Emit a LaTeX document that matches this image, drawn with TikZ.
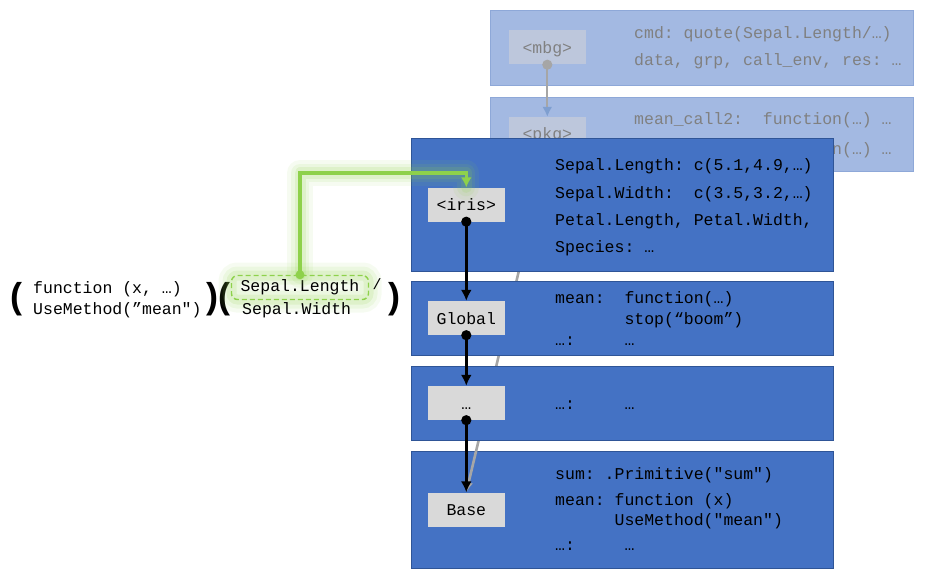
\documentclass[tikz,border=0pt]{standalone}
\usepackage{fontspec}
\setmonofont{Liberation Mono}
\newfontfamily\parenfont{Liberation Sans}
\usetikzlibrary{
arrows.meta,
calc,
positioning
}
\tikzset{>=latex}
\definecolor{envblue}{HTML}{4472C4}
\definecolor{envedge}{HTML}{2F5597}
\definecolor{labelgray}{HTML}{D9D9D9}
\definecolor{mbgblue}{HTML}{A3B9E2}
\definecolor{mbgedge}{HTML}{8EA8D8}
\definecolor{mbgbox}{HTML}{BDC7DC}
\definecolor{mbgtext}{HTML}{808080}
\definecolor{mbghead}{HTML}{7F9FD0}
\definecolor{linkgray}{HTML}{A6A6A6}
\definecolor{grn}{HTML}{8ED14B}

\begin{document}
\begin{tikzpicture}[x=1pt, y=-1pt, font=\fontsize{16.5}{18}\selectfont\ttfamily,
	envframe/.style={draw=envedge, fill=envblue, line width=0.8pt, minimum width=422pt, inner sep=0pt},
	mbgframe/.style={draw=mbgedge, fill=mbgblue, line width=0.8pt, minimum width=423pt, inner sep=0pt},
	envlabel/.style={fill=labelgray, minimum width=77pt, minimum height=34pt, inner sep=0pt, text height=13pt, text depth=1pt},
	mbglabel/.style={envlabel, fill=mbgbox, text=mbgtext},
	code/.style={anchor=base west, inner sep=0pt, text height=11pt, text depth=2pt},
	mbgcode/.style={code, text=mbgtext},
	bigparen/.style={font=\fontsize{36}{36}\selectfont\parenfont\bfseries, inner sep=0pt},
	parent/.style={line width=2.6pt, {Circle[length=10pt]}-{Latex[length=11pt,width=11pt]}, shorten <=-5pt},
	mbglink/.style={draw=linkgray, line width=2.2pt, {Circle[length=10pt]}-{Latex[length=10pt,width=10pt,color=mbghead]}, shorten <=-5pt},
	scopelink/.style={draw=linkgray, line width=2.6pt, -{Latex[length=10pt,width=9pt]}},
	argbox/.style={draw=grn, dash pattern=on 5pt off 3pt, line width=1.4pt, rounded corners=6pt,
		minimum width=137pt, minimum height=24pt, inner sep=0pt,
		preaction={draw=grn, solid, opacity=0.08, line width=26pt},
		preaction={draw=grn, solid, opacity=0.1, line width=18pt},
		preaction={draw=grn, solid, opacity=0.15, line width=10pt}},
	lookup/.style={draw=grn, line width=3.5pt, -{Latex[length=10pt,width=11pt]},
		preaction={draw=grn, arrows=-, line cap=round, line join=round, opacity=0.08, line width=26pt},
		preaction={draw=grn, arrows=-, line cap=round, line join=round, opacity=0.1, line width=18pt},
		preaction={draw=grn, arrows=-, line cap=round, line join=round, opacity=0.15, line width=11pt}}
]
	\useasboundingbox (0,0) rectangle (925,580);

	% faded environments at the top
	\node[mbgframe, minimum height=75pt] (mbgenv) at (701.5,47.5) {};
	\node[mbgframe, minimum height=74pt] (pkgenv) at (701.5,134) {};
	\node[mbglabel, right=19pt of mbgenv.west] (mbgl) {<mbg>};
	\node[mbglabel, right=19pt of pkgenv.west] (pkgl) {<pkg>};
	\node[mbgcode] (mbgtx1) at (634,39) {cmd: quote(Sepal.Length/…)};
	\node[mbgcode] (mbgtx2) at (634,66) {data, grp, call\_env, res: …};
	\node[mbgcode] (pkgtx1) at (634,125) {mean\_call2:~~function(…) …};
	\node[mbgcode] (pkgtx2) at (634,155) {mean\_call1:~~function(…) …};
	\draw[mbglink] (mbgl.south) -- (pkgl.north);

	% base environment, under the scope link
	\node[envframe, minimum height=117pt] (baseenv) at (622,509.5) {};
	\node[envlabel, right=17pt of baseenv.west] (basel) {Base};
	\draw[scopelink] (pkgl.south) -- (basel.north);

	% search path
	\node[envframe, minimum height=133pt] (irisenv) at (622,204.5) {};
	\node[envframe, minimum height=74pt]  (globenv) at (622,318) {};
	\node[envframe, minimum height=74pt]  (dotsenv) at (622,403) {};
	\node[envlabel, right=17pt of irisenv.west] (irisl) {<iris>};
	\node[envlabel, right=17pt of globenv.west] (globl) {Global};
	\node[envlabel, right=17pt of dotsenv.west] (dotsl) {…};

	\node[code] (iristx1) at (555,171) {Sepal.Length: c(5.1,4.9,…)};
	\node[code] (iristx2) at (555,198) {Sepal.Width:~~c(3.5,3.2,…)};
	\node[code] (iristx3) at (555,225.5) {Petal.Length, Petal.Width,};
	\node[code] (iristx4) at (555,252.5) {Species: …};

	\node[code] (globtx1) at (555,303) {mean:~~function(…)};
	\node[code] (globtx2) at (555,324) {~~~~~~~stop(“boom”)};
	\node[code] (globtx3) at (555,345) {…:~~~~~…};

	\node[code] (dotstx1) at (555,409) {…:~~~~~…};

	\node[code] (basetx1) at (555,479) {sum: .Primitive("sum")};
	\node[code] (basetx2) at (555,505) {mean: function (x)};
	\node[code] (basetx3) at (555,525) {~~~~~~UseMethod("mean")};
	\node[code] (basetx4) at (555,550) {…:~~~~~…};

	\draw[parent] (irisl.south) -- (globl.north);
	\draw[parent] (globl.south) -- (dotsl.north);
	\draw[parent] (dotsl.south) -- (basel.north);

	% the call
	\node[bigparen] (popen)  at (16,299)  {(};
	\node[code]     (fnhead) at (33,293)  {function (x, …)};
	\node[code]     (fnbody) at (33,314)  {UseMethod(”mean")};
	\node[bigparen] (pmid)   at (218,299) {)(};
	\node[argbox]   (slen)   at (300,287.5) {Sepal.Length};
	\node[code]     (swid)   at (242,314) {Sepal.Width};
	\node[font=\fontsize{15}{15}\selectfont\ttfamily, inner sep=0pt] (slash) at (377,284) {/};
	\node[bigparen] (pclose) at (394,299) {)};

	\coordinate (grnturn) at (300,173);
	\draw[lookup] (slen.north) -- (grnturn) -| (irisl.north);
	\fill[grn] (slen.north) circle (4.5pt);
\end{tikzpicture}
\end{document}
